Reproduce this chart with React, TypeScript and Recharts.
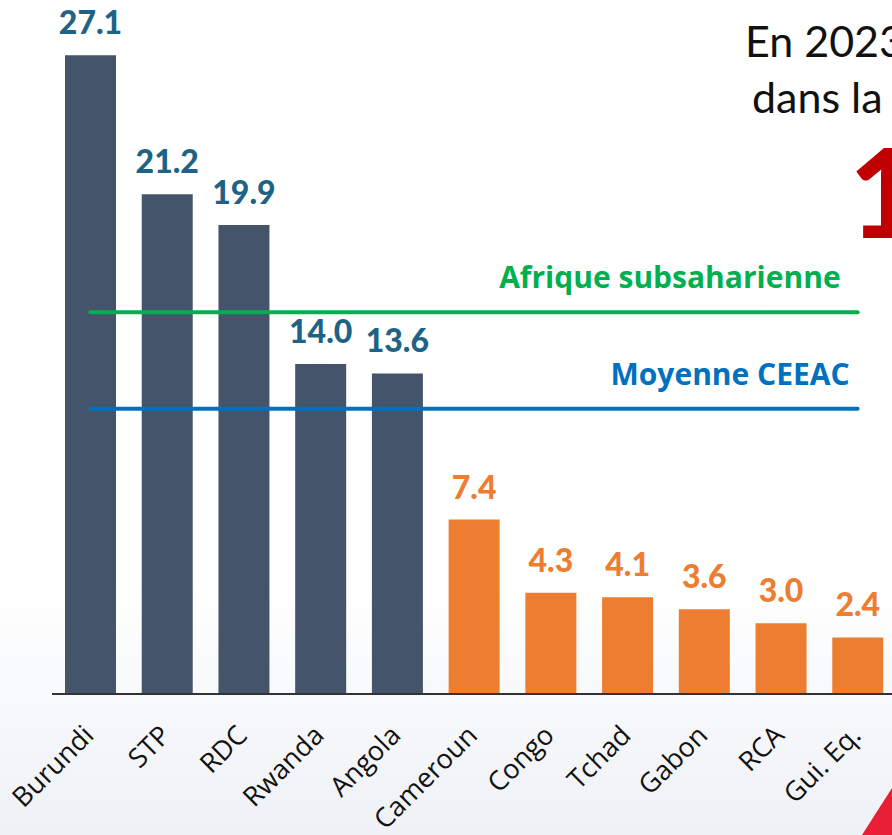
import { BarChart, Bar, XAxis, YAxis, Cell, LabelList, ReferenceLine } from 'recharts';

const COUNTRIES = ['Burundi', 'STP', 'RDC', 'Rwanda', 'Angola', 'Cameroun', 'Congo', 'Tchad', 'Gabon', 'RCA', 'Gui. Eq.'];
const VALUES = [27.1, 21.2, 19.9, 14.0, 13.6, 7.4, 4.3, 4.1, 3.6, 3.0, 2.4];
// the first five are above the CEEAC average
const ABOVE_AVG = 5;

const SSA_AVG = 16.2;
const CEEAC_AVG = 12.1;

const DARK = '#44546A';
const ORANGE = '#ED7D31';
const DARK_LABEL = '#1E6386';
const FONT = 'Lato, "Open Sans", sans-serif';
const WIDE_FONT = '"Open Sans", "Noto Sans", sans-serif';

const data = COUNTRIES.map((name, i) => ({ name, value: VALUES[i] }));

const ValueLabel = (props: any) => {
  const { x, y, width, value, index } = props;
  return (
    <text
      x={x + width / 2}
      y={y - 21}
      textAnchor="middle"
      fill={index < ABOVE_AVG ? DARK_LABEL : ORANGE}
      fontFamily={FONT}
      fontWeight={900}
      fontSize={32}
    >
      {Number(value).toFixed(1)}
    </text>
  );
};

const CountryTick = (props: any) => {
  const { x, y, payload } = props;
  return (
    <g transform={`translate(${x + 5},${y + 35})`}>
      <text transform="rotate(-45)" textAnchor="end" fill="#111" fontFamily={WIDE_FONT} fontSize={27}>
        {payload.value}
      </text>
    </g>
  );
};

const lineLabel = (text: string, color: string, dx: number) => (props: any) => {
  const { viewBox } = props;
  const right = viewBox.x + viewBox.width;
  return (
    <text x={right - dx} y={viewBox.y - 24} textAnchor="end" fill={color} fontFamily={WIDE_FONT} fontWeight={700} fontSize={30}>
      {text}
    </text>
  );
};

export default function App() {
  return (
    <div
      style={{
        position: 'absolute',
        left: 0,
        top: 0,
        width: 892,
        height: 835,
        overflow: 'hidden',
        background: 'linear-gradient(180deg, #ffffff 0%, #ffffff 70%, #eef1f6 100%)',
      }}
    >
      <BarChart width={910} height={835} data={data} margin={{ top: 34, right: 14, bottom: 0, left: 52 }}>
        <XAxis
          dataKey="name"
          height={141}
          interval={0}
          tickLine={false}
          axisLine={{ stroke: '#333', strokeWidth: 2 }}
          tick={<CountryTick />}
        />
        <YAxis hide domain={[0, 28]} />
        <Bar dataKey="value" barSize={51} isAnimationActive={false}>
          {data.map((_, i) => (
            <Cell key={`c-${i}`} fill={i < ABOVE_AVG ? DARK : ORANGE} />
          ))}
          <LabelList dataKey="value" content={<ValueLabel />} />
        </Bar>
        <ReferenceLine
          segment={[
            { x: COUNTRIES[0], y: SSA_AVG },
            { x: COUNTRIES[COUNTRIES.length - 1], y: SSA_AVG },
          ]}
          stroke="#00B050"
          strokeWidth={4}
          strokeLinecap="round"
          label={lineLabel('Afrique subsaharienne', '#00B050', 17)}
        />
        <ReferenceLine
          segment={[
            { x: COUNTRIES[0], y: CEEAC_AVG },
            { x: COUNTRIES[COUNTRIES.length - 1], y: CEEAC_AVG },
          ]}
          stroke="#0070C0"
          strokeWidth={4}
          strokeLinecap="round"
          label={lineLabel('Moyenne CEEAC', '#0070C0', 8)}
        />
      </BarChart>
      <div style={{ position: 'absolute', left: 745, top: 16, fontFamily: FONT, fontSize: 43, color: '#111', whiteSpace: 'nowrap', lineHeight: '50px' }}>
        En 2023
      </div>
      <div style={{ position: 'absolute', left: 752, top: 72, fontFamily: FONT, fontSize: 43, color: '#111', whiteSpace: 'nowrap', lineHeight: '50px' }}>
        dans la
      </div>
      <div style={{ position: 'absolute', left: 849, top: 128, fontFamily: FONT, fontWeight: 900, fontSize: 124, color: '#C00000', lineHeight: '124px' }}>
        1
      </div>
      <div
        style={{
          position: 'absolute',
          left: 862,
          top: 788,
          width: 30,
          height: 47,
          background: '#E81E35',
          clipPath: 'polygon(0 100%, 100% 0, 100% 100%)',
        }}
      />
    </div>
  );
}
